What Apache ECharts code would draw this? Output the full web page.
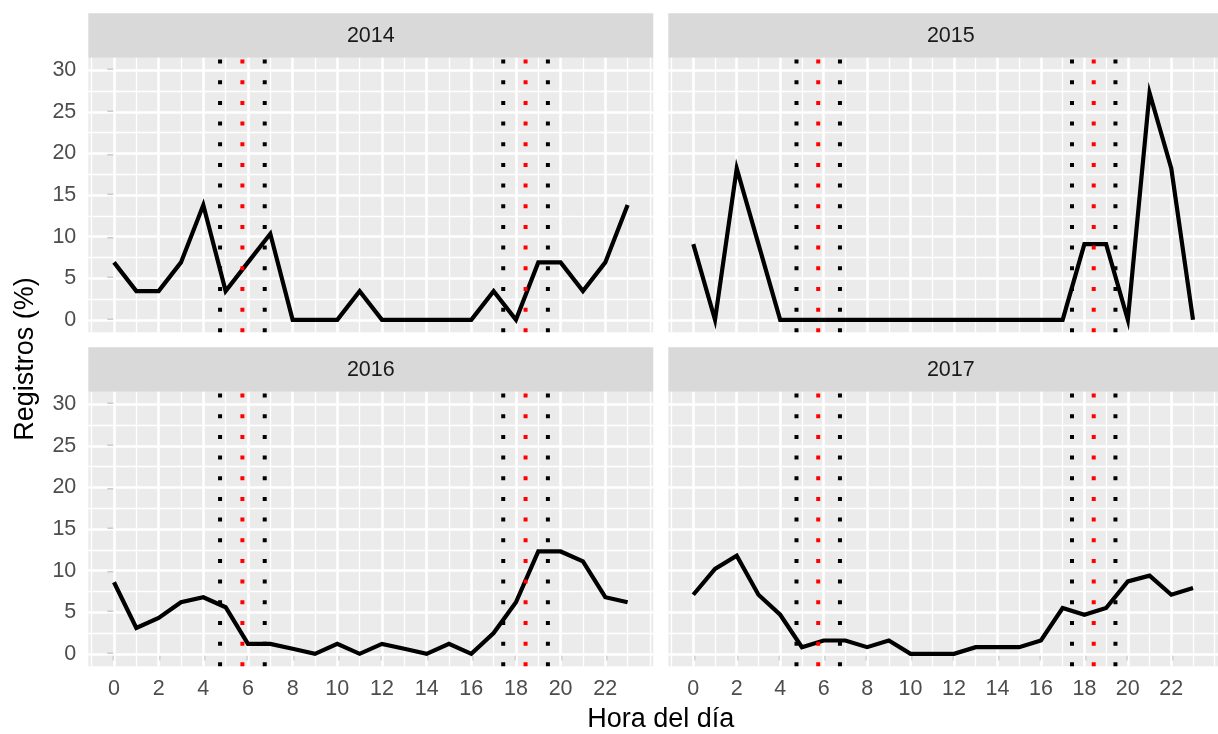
<!DOCTYPE html>
<html>
<head>
<meta charset="utf-8">
<script src="https://cdn.jsdelivr.net/npm/echarts@6/dist/echarts.min.js"></script>
<style>
html,body{margin:0;padding:0;background:#fff;}
#c{width:1218px;height:734px;}
</style>
</head>
<body>
<div id="c"></div>
<script>
// ---- data ----
const hours = [0,1,2,3,4,5,6,7,8,9,10,11,12,13,14,15,16,17,18,19,20,21,22,23];
const years = ['2014','2015','2016','2017'];
const v2014 = [6.9,3.45,3.45,6.9,13.8,3.45,6.9,10.34,0,0,0,3.45,0,0,0,0,0,3.45,0,6.9,6.9,3.45,6.9,13.8];
const v2015 = [9.09,0,18.18,9.09,0,0,0,0,0,0,0,0,0,0,0,0,0,0,9.09,9.09,0,27.27,18.18,0];
const v2016 = [8.6,3.1,4.3,6.2,6.8,5.6,1.2,1.2,0.6,0,1.2,0,1.2,0.6,0,1.2,0,2.5,6.2,12.3,12.3,11.1,6.8,6.2];
const v2017 = [7.1,10.2,11.8,7.1,4.7,0.8,1.6,1.6,0.8,1.6,0,0,0,0.8,0.8,0.8,1.6,5.5,4.7,5.5,8.7,9.4,7.1,7.9];
const xTicks = [0,2,4,6,8,10,12,14,16,18,20,22];
const yTicks = [0,5,10,15,20,25,30];
const xMinor = [-1,1,3,5,7,9,11,13,15,17,19,21,23,24];
const yMinor = [2.5,7.5,12.5,17.5,22.5,27.5];
const blackLines = [4.75,6.75,17.43,19.43];
const redLines = [5.75,18.43];
const xTitle = 'Hora del día';
const yTitle = 'Registros (%)';

// ---- layout ----
const values = [v2014, v2015, v2016, v2017];
const X_MIN = -1.15, X_MAX = 24.15, Y_MIN = -1.5, Y_MAX = 31.5;
const PANEL_LEFT = [88.3, 668.3];
const PANEL_TOP = [57.7, 391.7];
const PW = 565, PH = 274.6, STRIP_H = 44.4;
const FONT = 'Liberation Sans, Arial, Helvetica, sans-serif';

const chart = echarts.init(document.getElementById('c'), null, {renderer:'canvas'});

const grids = [], xAxes = [], yAxes = [], series = [], graphics = [];
for (let i = 0; i < 4; i++) {
  const col = i % 2, row = Math.floor(i / 2);
  const left = PANEL_LEFT[col], top = PANEL_TOP[row];
  grids.push({left: left, top: top, width: PW, height: PH, show: true,
    backgroundColor: '#EBEBEB', borderWidth: 0, containLabel: false});
  const bottomRow = row === 1, leftCol = col === 0;
  xAxes.push({gridIndex: i, type: 'value', min: X_MIN, max: X_MAX,
    axisLine: {show: false}, splitLine: {show: false},
    axisTick: {show: bottomRow, customValues: xTicks, length: 6.6,
      lineStyle: {color: '#333333', width: 2.2}},
    axisLabel: {show: bottomRow, customValues: xTicks, margin: 12,
      color: '#4D4D4D', fontSize: 21.5, fontFamily: FONT}});
  yAxes.push({gridIndex: i, type: 'value', min: Y_MIN, max: Y_MAX,
    axisLine: {show: false}, splitLine: {show: false},
    axisTick: {show: leftCol, customValues: yTicks, length: 6.6,
      lineStyle: {color: '#333333', width: 2.2}},
    axisLabel: {show: leftCol, customValues: yTicks, margin: 12,
      color: '#4D4D4D', fontSize: 21.5, fontFamily: FONT}});

  // grid lines (drawn through the axes' scales)
  const gl = [];
  xMinor.forEach(v => gl.push({xAxis: v, lineStyle: {width: 1.3}}));
  yMinor.forEach(v => gl.push({yAxis: v, lineStyle: {width: 1.3}}));
  xTicks.forEach(v => gl.push({xAxis: v, lineStyle: {width: 2.6}}));
  yTicks.forEach(v => gl.push({yAxis: v, lineStyle: {width: 2.6}}));
  series.push({type: 'line', xAxisIndex: i, yAxisIndex: i, data: [], z: 1,
    silent: true,
    markLine: {silent: true, z: 1, symbol: ['none','none'], animation: false,
      label: {show: false}, emphasis: {disabled: true},
      lineStyle: {color: '#FFFFFF', type: 'solid'}, data: gl}});

  // data line
  series.push({type: 'line', xAxisIndex: i, yAxisIndex: i, z: 3,
    data: hours.map((h, k) => [h, values[i][k]]),
    symbol: 'none', silent: true,
    lineStyle: {color: '#000000', width: 4.2, join: 'miter'}});

  // dotted reference lines
  const addV = (x, color) => series.push({type: 'line', xAxisIndex: i, yAxisIndex: i, z: 4,
    data: [[x, Y_MIN], [x, Y_MAX]], symbol: 'none', silent: true,
    lineStyle: {color: color, width: 4, type: [4, 16.67], cap: 'butt'}});
  blackLines.forEach(x => addV(x, '#000000'));
  redLines.forEach(x => addV(x, '#FF0000'));

  // strip
  graphics.push({type: 'rect', shape: {x: left, y: top - STRIP_H, width: PW, height: STRIP_H},
    style: {fill: '#D9D9D9'}, z: 0});
  graphics.push({type: 'text', x: left + PW / 2, y: top - STRIP_H / 2 + 1,
    style: {text: years[i], fill: '#1A1A1A', fontSize: 21.5, fontFamily: FONT,
      textAlign: 'center', textVerticalAlign: 'middle'}, z: 1});
}

graphics.push({type: 'text', x: PANEL_LEFT[0] + (PANEL_LEFT[1] + PW - PANEL_LEFT[0]) / 2, y: 720,
  style: {text: xTitle, fill: '#000000', fontSize: 27, fontFamily: FONT,
    textAlign: 'center', textVerticalAlign: 'middle'}});
graphics.push({type: 'text', x: 26, y: 359, rotation: Math.PI / 2,
  style: {text: yTitle, fill: '#000000', fontSize: 27, fontFamily: FONT,
    textAlign: 'center', textVerticalAlign: 'middle'}});

chart.setOption({
  animation: false,
  backgroundColor: '#FFFFFF',
  grid: grids, xAxis: xAxes, yAxis: yAxes, series: series,
  graphic: graphics
});
</script>
</body>
</html>
